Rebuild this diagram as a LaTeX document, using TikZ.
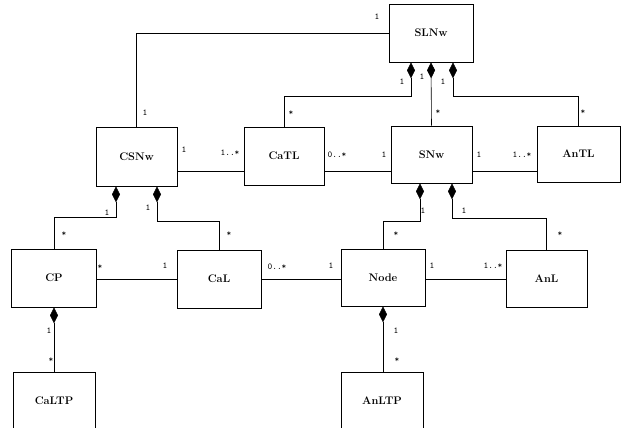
\documentclass[tikz,border=0pt]{standalone}
\usetikzlibrary{arrows.meta,calc}
\begin{document}
\begin{tikzpicture}[x=1pt,y=-1pt,
  cls/.style={draw,line width=0.7pt,minimum width=#1,inner sep=0pt,font=\fontsize{11}{12}\selectfont\bfseries},
  conn/.style={line width=0.6pt},
  comp/.style={line width=0.6pt,{Diamond[length=16pt,width=8pt]}-},
  lab/.style={inner sep=0pt,font=\fontsize{9}{10}\selectfont\ttfamily}]
\useasboundingbox (0,0) rectangle (622,428);
\coordinate (r2) at (0,171);
\coordinate (r3) at (0,279);
% classes
\node[cls=84pt,minimum height=58pt] (SLNw) at (431,33) {SLNw};
\node[cls=81pt,minimum height=59pt] (CSNw) at (136.5,156.5) {CSNw};
\node[cls=80pt,minimum height=58pt] (CaTL) at (284,156) {CaTL};
\node[cls=81pt,minimum height=57pt] (SNw) at (431.5,154.5) {SNw};
\node[cls=83pt,minimum height=56pt] (AnTL) at (578.5,154) {AnTL};
\node[cls=85pt,minimum height=58pt] (CP) at (54,278) {CP};
\node[cls=84pt,minimum height=58pt] (CaL) at (219,279) {CaL};
\node[cls=84pt,minimum height=57pt] (Node) at (383,277.5) {Node};
\node[cls=81pt,minimum height=57pt] (AnL) at (546.5,278.5) {AnL};
\node[cls=82pt,minimum height=58pt] (CaLTP) at (54,401) {CaLTP};
\node[cls=82pt,minimum height=58pt] (AnLTP) at (382,401) {AnLTP};
% connectors
\draw[conn] (CSNw.north) |- (SLNw.west);
\draw[comp] ($(SLNw.south)+(-20,0)$) -- ++(0,34) -| (CaTL.north);
\draw[comp] (SLNw.south) -- (SNw.north);
\draw[comp] ($(SLNw.south)+(22,0)$) -- ++(0,34) -| (AnTL.north);
\draw[conn] (CSNw.east |- r2) -- (CaTL.west |- r2);
\draw[conn] (CaTL.east |- r2) -- (SNw.west |- r2);
\draw[conn] (SNw.east |- r2) -- (AnTL.west |- r2);
\draw[comp] ($(SNw.south)+(-11.5,0)$) -- ++(0,38) -| (Node.north);
\draw[comp] ($(SNw.south)+(20.5,0)$) -- ++(0,35) -| (AnL.north);
\draw[comp] ($(CSNw.south)+(-20.5,0)$) -- ++(0,31) -| (CP.north);
\draw[comp] ($(CSNw.south)+(20.5,0)$) -- ++(0,35) -| (CaL.north);
\draw[conn] (CP.east |- r3) -- (CaL.west |- r3);
\draw[conn] (CaL.east |- r3) -- (Node.west |- r3);
\draw[conn] (Node.east |- r3) -- (AnL.west |- r3);
\draw[comp] (CP.south) -- (CP.south |- CaLTP.north);
\draw[comp] (Node.south) -- (Node.south |- AnLTP.north);
% multiplicities
\node[lab] (m1) at (145,113) {1};
\node[lab] (m2) at (377,17) {1};
\node[lab] (m3) at (291,113) {*};
\node[lab] (m4) at (402,82) {1};
\node[lab] (m5) at (422,77) {1};
\node[lab] (m6) at (438,112) {*};
\node[lab] (m7) at (443,82) {1};
\node[lab] (m8) at (583,112) {*};
\node[lab] (m9) at (184,150) {1};
\node[lab] (m10) at (230,153) {1..*};
\node[lab] (m11) at (337,155) {0..*};
\node[lab] (m12) at (384,155) {1};
\node[lab] (m13) at (479,155) {1};
\node[lab] (m14) at (522,155) {1..*};
\node[lab] (m15) at (423,211) {1};
\node[lab] (m16) at (464,211) {1};
\node[lab] (m17) at (396,234) {*};
\node[lab] (m18) at (560,234) {*};
\node[lab] (m19) at (107,213) {1};
\node[lab] (m20) at (148,208) {1};
\node[lab] (m21) at (64,234) {*};
\node[lab] (m22) at (229,234) {*};
\node[lab] (m23) at (100,267) {*};
\node[lab] (m24) at (165,266) {1};
\node[lab] (m25) at (277,267) {0..*};
\node[lab] (m26) at (331,266) {1};
\node[lab] (m27) at (432,266) {1};
\node[lab] (m28) at (493,266) {1..*};
\node[lab] (m29) at (49,331) {1};
\node[lab] (m30) at (51,360) {*};
\node[lab] (m31) at (396,331) {1};
\node[lab] (m32) at (397,360) {*};
\end{tikzpicture}
\end{document}
